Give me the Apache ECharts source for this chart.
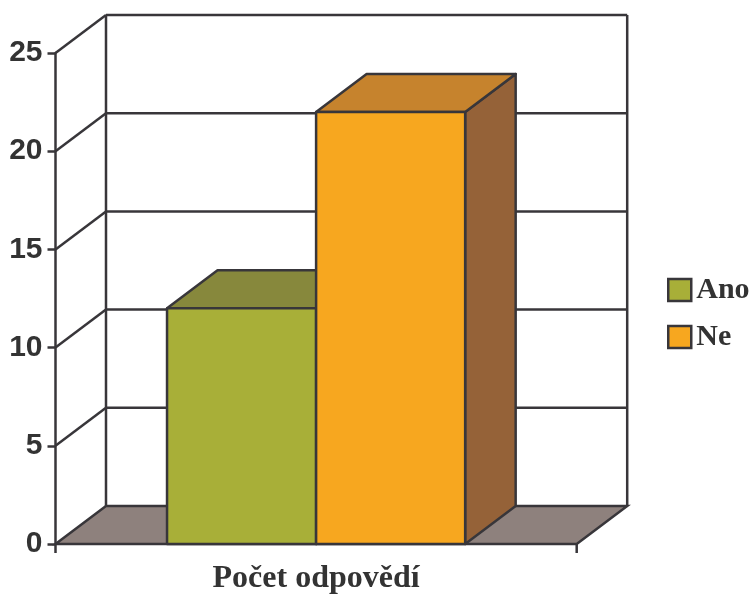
<!DOCTYPE html>
<html>
<head>
<meta charset="utf-8">
<script src="https://cdn.jsdelivr.net/npm/echarts@6/dist/echarts.min.js"></script>
<style>
  html, body { margin: 0; padding: 0; background: #fff; }
  #chart { width: 750px; height: 596px; }
</style>
</head>
<body>
<div id="chart"></div>
<script>
// Survey answers, drawn as a pseudo-3D column chart
var categories = ['Počet odpovědí'];
var seriesNames = ['Ano', 'Ne'];
var anoValues = [12];
var neValues = [22];
var yTicks = [0, 5, 10, 15, 20, 25];

// Colour sets per series: front, top, side
var palette = {
  Ano: { front: '#A8AF38', top: '#87883C', side: '#6E7030' },
  Ne:  { front: '#F7A71F', top: '#C6832D', side: '#956238' }
};
var LINE = '#38363A';
var FLOOR = '#8E817D';
// depth of the scene (back wall offset from the front plane)
var DX = 50.5, DY = -38;
var BAR_FRACTION = 0.286; // each column's width as share of the category band

var chart = echarts.init(document.getElementById('chart'));

function wallItem(params, api) {
  var v = api.value(0);
  var cs = params.coordSys;
  var xl = cs.x, xr = cs.x + cs.width;
  var y = api.coord([0, v])[1];
  var children = [];
  var lineStyle = { stroke: LINE, lineWidth: 2.5, fill: null };
  if (v === 0) {
    // floor
    children.push({
      type: 'polygon',
      shape: { points: [[xl, y], [xr, y], [xr + DX, y + DY], [xl + DX, y + DY]] },
      style: { fill: FLOOR, stroke: LINE, lineWidth: 2.5 }
    });
    // back wall verticals
    var yTop = api.coord([0, 25])[1];
    children.push({ type: 'line', shape: { x1: xl + DX, y1: y + DY, x2: xl + DX, y2: yTop + DY }, style: lineStyle });
    children.push({ type: 'line', shape: { x1: xr + DX, y1: y + DY, x2: xr + DX, y2: yTop + DY }, style: lineStyle });
    // ticks below the floor edge
    children.push({ type: 'line', shape: { x1: xr, y1: y, x2: xr, y2: y + 9 }, style: lineStyle });
    children.push({ type: 'line', shape: { x1: xl, y1: y, x2: xl, y2: y + 9 }, style: lineStyle });
  } else {
    children.push({ type: 'line', shape: { x1: xl + DX, y1: y + DY, x2: xr + DX, y2: y + DY }, style: lineStyle });
    children.push({ type: 'line', shape: { x1: xl, y1: y, x2: xl + DX, y2: y + DY }, style: lineStyle });
  }
  return { type: 'group', children: children };
}

function barRenderer(idx, name) {
  return function (params, api) {
    var c = api.value(0);
    var v = api.value(1);
    var top = api.coord([c, v]);
    var base = api.coord([c, 0]);
    var band = api.size([1, 0])[0];
    var w = band * BAR_FRACTION;
    var x0 = top[0] + (idx === 0 ? -w : 0);
    var x1 = x0 + w;
    var yT = top[1], yB = base[1];
    var col = palette[name];
    var st = function (fill) { return { fill: fill, stroke: LINE, lineWidth: 2.5, lineJoin: 'round' }; };
    return {
      type: 'group',
      children: [
        { type: 'polygon', shape: { points: [[x1, yB], [x1 + DX, yB + DY], [x1 + DX, yT + DY], [x1, yT]] }, style: st(col.side) },
        { type: 'polygon', shape: { points: [[x0, yT], [x0 + DX, yT + DY], [x1 + DX, yT + DY], [x1, yT]] }, style: st(col.top) },
        { type: 'rect', shape: { x: x0, y: yT, width: w, height: yB - yT }, style: st(col.front) }
      ]
    };
  };
}

var option = {
  animation: false,
  grid: { left: 55.5, right: 173.3, top: 53, bottom: 52, containLabel: false },
  legend: {
    orient: 'vertical',
    left: 662,
    top: 270,
    itemWidth: 23,
    itemHeight: 22,
    itemGap: 17,
    icon: 'rect',
    data: seriesNames.map(function (n) {
      return { name: n, itemStyle: { color: palette[n].front, borderColor: LINE, borderWidth: 2.5 } };
    }),
    textStyle: { fontFamily: 'Liberation Serif', fontWeight: 'bold', fontSize: 30, color: '#333' }
  },
  xAxis: {
    type: 'category',
    data: categories,
    axisLine: { show: false },
    axisTick: { show: false },
    axisLabel: {
      fontFamily: 'Liberation Serif', fontWeight: 'bold', fontSize: 32, color: '#333', margin: 19
    }
  },
  yAxis: {
    type: 'value',
    min: 0,
    max: 25,
    interval: 5,
    axisLine: { show: true, lineStyle: { color: LINE, width: 2.5 } },
    axisTick: { show: true, length: 8, lineStyle: { color: LINE, width: 2.5 } },
    splitLine: { show: false },
    axisLabel: {
      fontFamily: 'Liberation Sans', fontWeight: 'bold', fontSize: 30, color: '#333', margin: 13
    }
  },
  series: [
    {
      type: 'custom',
      name: 'walls',
      renderItem: wallItem,
      data: yTicks.map(function (t) { return [t]; }),
      encode: { y: 0 },
      silent: true,
      z: 1
    },
    {
      type: 'custom',
      name: 'Ano',
      color: palette.Ano.front,
      renderItem: barRenderer(0, 'Ano'),
      data: anoValues.map(function (v, i) { return [i, v]; }),
      encode: { x: 0, y: 1 },
      z: 2
    },
    {
      type: 'custom',
      name: 'Ne',
      color: palette.Ne.front,
      renderItem: barRenderer(1, 'Ne'),
      data: neValues.map(function (v, i) { return [i, v]; }),
      encode: { x: 0, y: 1 },
      z: 3
    }
  ]
};

chart.setOption(option);
</script>
</body>
</html>
